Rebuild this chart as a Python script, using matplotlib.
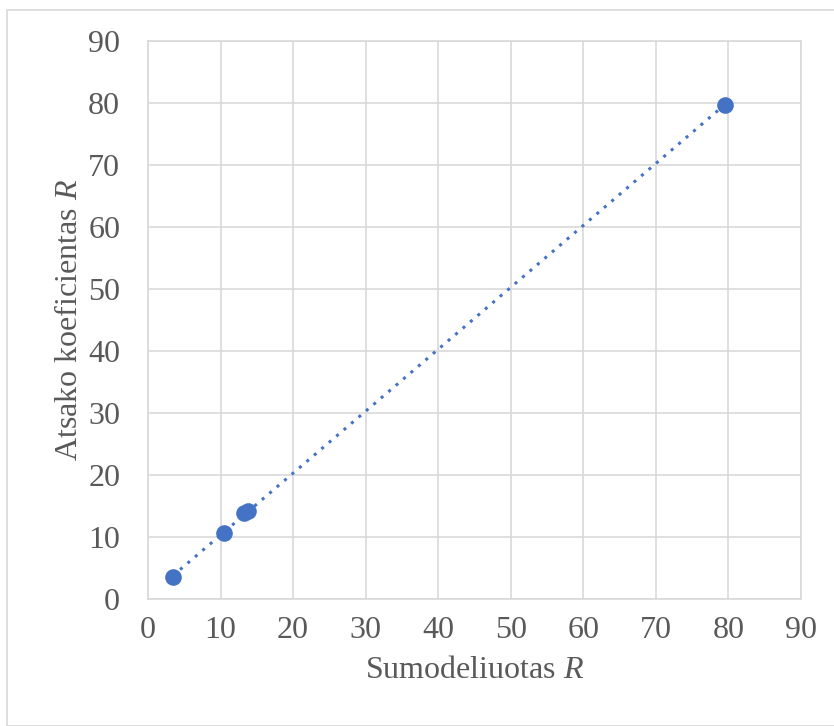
import numpy as np
import matplotlib.pyplot as plt
from matplotlib.patches import Rectangle

plt.rcParams['font.family'] = ['Liberation Serif', 'DejaVu Serif']
plt.rcParams['mathtext.fontset'] = 'custom'
plt.rcParams['mathtext.rm'] = 'Liberation Serif'
plt.rcParams['mathtext.it'] = 'Liberation Serif:italic'

x_vals = [3.4, 10.5, 13.3, 13.8, 79.5]
y_vals = [3.5, 10.7, 13.9, 14.2, 79.7]

blue = '#4472C4'
grey = '#595959'

fig = plt.figure(figsize=(8.34, 7.26), dpi=100)
ax = fig.add_axes([148/834, 1-599/726, (801-148)/834, (599-41)/726])

fig.patches.append(Rectangle((7/834, 0), 1, 1-10/726, transform=fig.transFigure,
                             fill=False, edgecolor='#d9d9d9', linewidth=1.2))

coef = np.polyfit(x_vals, y_vals, 1)
xs = np.array([min(x_vals), max(x_vals)])
ax.plot(xs, np.polyval(coef, xs), linestyle=(0, (1, 2.2)), color=blue, linewidth=2.2, zorder=2)
ax.scatter(x_vals, y_vals, s=120, color=blue, zorder=3)

ax.set_xlim(0, 90)
ax.set_ylim(0, 90)
ax.set_xticks(range(0, 91, 10))
ax.set_yticks(range(0, 91, 10))
ax.grid(True, color='#d9d9d9', linewidth=1.2)
ax.set_axisbelow(True)
for s in ax.spines.values():
    s.set_color('#d9d9d9')
    s.set_linewidth(1.2)
ax.tick_params(length=0, labelsize=23, labelcolor=grey)
ax.tick_params(axis='x', pad=12)
ax.tick_params(axis='y', pad=20)

ax.set_xlabel('Sumodeliuotas $\\mathit{R}$', fontsize=23, color=grey, labelpad=8)
ax.set_ylabel('Atsako koeficientas $\\mathit{R}$', fontsize=23, color=grey, labelpad=3)

fig.savefig('out.png', dpi=100)
